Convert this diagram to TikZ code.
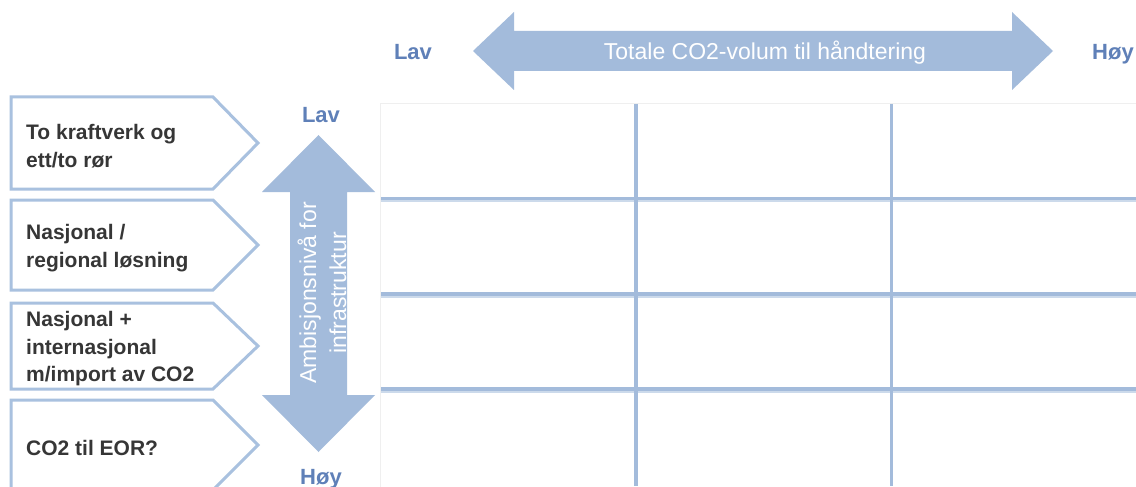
\documentclass[tikz,border=0pt]{standalone}
\usepackage{fontspec}
\setmainfont{Liberation Sans}
\definecolor{arrowblue}{HTML}{A3BBDB}
\definecolor{boxblue}{HTML}{A9C1DF}
\definecolor{labelblue}{HTML}{5F80B8}
\definecolor{textgray}{HTML}{363636}
\definecolor{gridlight}{HTML}{CCDAEB}
\definecolor{framegray}{HTML}{EFEFEF}
\begin{document}
\begin{tikzpicture}[x=1pt,y=-1pt,
  chevron/.style={draw=boxblue, line width=3pt, fill=white, line join=miter},
  boxtext/.style={anchor=west, align=left, font=\fontsize{21}{27.5}\selectfont\bfseries, text=textgray, inner sep=0pt},
  lvl/.style={font=\fontsize{22}{26}\selectfont\bfseries, text=labelblue, inner sep=0pt, anchor=base},
  arrowtext/.style={text=white, inner sep=0pt},
  bigarrow/.style={fill=arrowblue, draw=none},
  gridline/.style={draw=arrowblue, line width=3.6pt},
  gridshade/.style={draw=gridlight, line width=2pt},
]
\useasboundingbox (0,0) rectangle (1136,487);
\fill[white] (0,0) rectangle (1136,487);

% horizontal double arrow
\fill[bigarrow] (473,51) -- (514,12) -- (514,31) -- (1012,31) -- (1012,12) -- (1053,51)
  -- (1012,90) -- (1012,71) -- (514,71) -- (514,90) -- cycle;
\node[arrowtext, font=\fontsize{23}{28}\selectfont, anchor=base] (htext) at (765,60) {Totale CO2-volum til håndtering};
\node[lvl] (lavtop) at (413,60) {Lav};
\node[lvl, anchor=base west] (hoytop) at (1092,60) {Høy};

% vertical double arrow
\fill[bigarrow] (318.5,135) -- (375,192) -- (347,192) -- (347,395) -- (375,395) -- (318.5,452)
  -- (262,395) -- (290,395) -- (290,192) -- (262,192) -- cycle;
\node[arrowtext, font=\fontsize{23}{30}\selectfont, rotate=90, align=center] (vtext) at (322,293) {Ambisjonsnivå for\\infrastruktur};
\node[lvl] (lavside) at (321,122) {Lav};
\node[lvl] (hoyside) at (321,484) {Høy};

% grid
\draw[framegray, line width=1pt] (380.5,487) -- (380.5,103.5) -- (1136,103.5);
\foreach \y in {198.5,294,389}{
  \draw[gridshade] (381,\y+2.8) -- (1136,\y+2.8);
  \draw[gridline] (381,\y) -- (1136,\y);
}
\foreach \x in {636,891.5}{
  \draw[gridline] (\x,104) -- (\x,486);
}

% chevrons
\draw[chevron] (11,97) -- (213,97) -- (258,143) -- (213,189) -- (11,189) -- cycle;
\draw[chevron] (11,200) -- (213,200) -- (258,245) -- (213,290) -- (11,290) -- cycle;
\draw[chevron] (11,303) -- (213,303) -- (258,346) -- (213,389) -- (11,389) -- cycle;
\draw[chevron] (11,400) -- (213,400) -- (258,445) -- (213,490) -- (11,490) -- cycle;

\node[boxtext] (b1) at (26,146) {To kraftverk og\\ett/to rør};
\node[boxtext] (b2) at (26,248) {Nasjonal /\\regional løsning};
\node[boxtext] (b3) at (26,349) {Nasjonal +\\internasjonal\\m/import av CO2};
\node[boxtext] (b4) at (26,448) {CO2 til EOR?};
\end{tikzpicture}
\end{document}
